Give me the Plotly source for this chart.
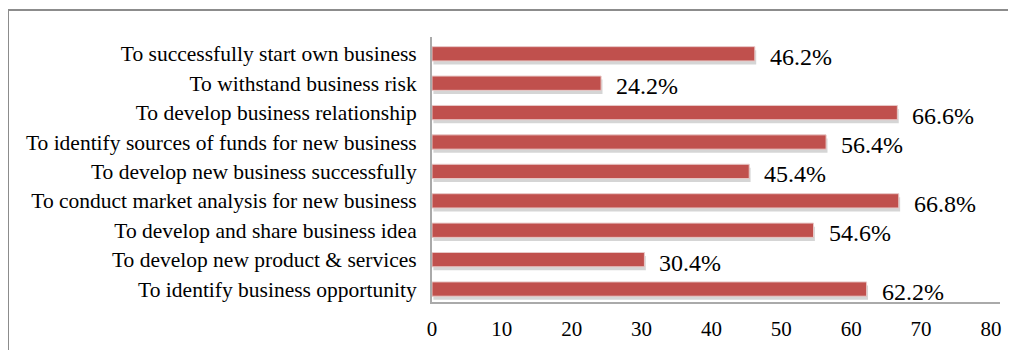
import plotly.graph_objects as go

categories = [
    "To successfully start own business",
    "To withstand business risk",
    "To develop business relationship",
    "To identify sources of funds for new business",
    "To develop new business successfully",
    "To conduct market analysis for new business",
    "To develop and share business idea",
    "To develop new product & services",
    "To identify business opportunity",
]
values = [46.2, 24.2, 66.6, 56.4, 45.4, 66.8, 54.6, 30.4, 62.2]
labels = [f"{v:.1f}%" for v in values]
tick_vals = [0, 10, 20, 30, 40, 50, 60, 70, 80]

FONT = "Liberation Serif, Times New Roman, serif"
W, H = 1016, 350
L, R, T, B = 424, 24, 29, 56
pw, ph = W - L - R, H - T - B

BW = 0.486
fig = go.Figure()
# soft shadow behind bars
fig.add_trace(go.Bar(
    y=categories, x=values, orientation="h",
    width=BW, offset=-BW / 2 + 0.12, base=0.2,
    marker=dict(color="rgba(150,150,150,0.40)", line=dict(width=0)),
    hoverinfo="skip", showlegend=False,
))
fig.add_trace(go.Bar(
    y=categories, x=values, orientation="h",
    width=BW, offset=-BW / 2,
    marker=dict(color="#C0504D", line=dict(color="#E8C8C7", width=1)),
    showlegend=False,
))

for cat, v, lab in zip(categories, values, labels):
    fig.add_annotation(x=v, y=cat, text=lab, showarrow=False,
                       xanchor="left", yanchor="middle", xshift=13, yshift=-3,
                       font=dict(family=FONT, size=24, color="#000"))

fig.update_layout(
    width=W, height=H,
    margin=dict(l=L, r=R, t=T, b=B),
    paper_bgcolor="white", plot_bgcolor="white",
    barmode="overlay",
    font=dict(family=FONT, color="#000"),
    xaxis=dict(range=[0, 81.29], tickvals=tick_vals, showgrid=False,
               zeroline=False, showline=True, linecolor="#AAAAAA", linewidth=2,
               tickfont=dict(family=FONT, size=21, color="#000"), ticks="outside",
               ticklen=7, tickcolor="rgba(0,0,0,0)"),
    yaxis=dict(range=[8.44, -0.571], showgrid=False, zeroline=False,
               showline=True, linecolor="#AAAAAA", linewidth=2,
               tickfont=dict(family=FONT, size=21.5, color="#000"), ticks="outside",
               ticklen=9, tickcolor="rgba(0,0,0,0)"),
)

# outer frame of the chart area
fig.add_shape(type="rect", xref="paper", yref="paper",
              x0=(0 - L) / pw, x1=1.2, y0=-0.5, y1=(H - B - 2) / ph,
              line=dict(color="#8C8C8C", width=2), fillcolor="rgba(0,0,0,0)",
              layer="below")

fig.write_html("out.html")
